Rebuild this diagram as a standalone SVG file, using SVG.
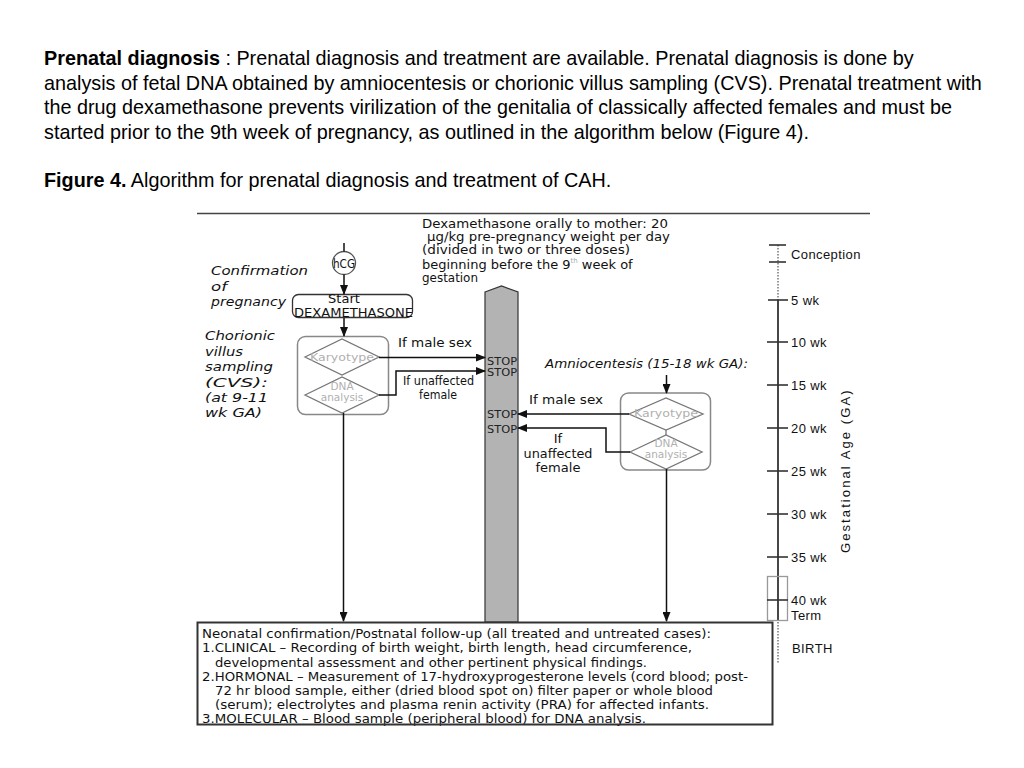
<svg xmlns="http://www.w3.org/2000/svg" width="1024" height="768" viewBox="0 0 1024 768">
<defs>
<marker id="ah" markerWidth="10" markerHeight="8" refX="9" refY="4" orient="auto" markerUnits="userSpaceOnUse"><path d="M0,0 L10,4 L0,8 Z" fill="#111"/></marker>
<style>
.p{font-family:"Liberation Sans",Arial,sans-serif;font-size:19.8px;fill:#000}
.b{font-weight:bold}
.d{font-family:"DejaVu Sans",Verdana,sans-serif;font-size:13px;fill:#111}
.bt{font-family:"DejaVu Sans",Verdana,sans-serif;font-size:12.5px;fill:#111}
.it{font-family:"DejaVu Sans",Verdana,sans-serif;font-style:italic;font-size:13px;fill:#111}
.g{font-family:"DejaVu Sans",Verdana,sans-serif;font-size:10.5px;fill:#b0b0b0}
.stop{font-family:"DejaVu Sans",Verdana,sans-serif;font-size:11px;fill:#222}
.tl{font-family:"Liberation Sans",Arial,sans-serif;font-size:13px;fill:#111;letter-spacing:0.4px}
.ln{stroke:#111;stroke-width:1.5;fill:none}
.gbox{stroke:#888;stroke-width:1.5;fill:#fff}
.dia{stroke:#777;stroke-width:1.3;fill:#fff}
</style>
</defs>
<rect width="1024" height="768" fill="#fff"/>

<g id="intro">
<text class="p" x="44" y="65"><tspan class="b">Prenatal diagnosis</tspan> : Prenatal diagnosis and treatment are available. Prenatal diagnosis is done by</text>
<text class="p" x="44" y="90">analysis of fetal DNA obtained by amniocentesis or chorionic villus sampling (CVS). Prenatal treatment with</text>
<text class="p" x="44" y="114">the drug dexamethasone prevents virilization of the genitalia of classically affected females and must be</text>
<text class="p" x="44" y="139">started prior to the 9th week of pregnancy, as outlined in the algorithm below (Figure 4).</text>
<text class="p" x="44" y="187"><tspan class="b">Figure 4.</tspan> Algorithm for prenatal diagnosis and treatment of CAH.</text>
</g>

<line x1="197" y1="213.5" x2="870" y2="213.5" stroke="#444" stroke-width="1.5"/>

<g id="dexa-note">
<text class="d" x="422" y="228" textLength="246" lengthAdjust="spacingAndGlyphs">Dexamethasone orally to mother: 20</text>
<text class="d" x="427" y="241" textLength="243" lengthAdjust="spacingAndGlyphs">µg/kg pre-pregnancy weight per day</text>
<text class="d" x="422" y="254" textLength="208" lengthAdjust="spacingAndGlyphs">(divided in two or three doses)</text>
<text class="d" x="422" y="268.5">beginning before the 9<tspan font-size="7" fill="#aaa" dy="-6">th</tspan><tspan dy="6"> week of</tspan></text>
<text class="d" x="422" y="282" textLength="56" lengthAdjust="spacingAndGlyphs">gestation</text>
</g>

<g id="left-labels">
<text class="it" x="211" y="275" textLength="97" lengthAdjust="spacingAndGlyphs">Confirmation</text>
<text class="it" x="211" y="290.5" textLength="16" lengthAdjust="spacingAndGlyphs">of</text>
<text class="it" x="211" y="306" textLength="75" lengthAdjust="spacingAndGlyphs">pregnancy</text>
<text class="it" x="205" y="340" textLength="70" lengthAdjust="spacingAndGlyphs">Chorionic</text>
<text class="it" x="205" y="355.5" textLength="38" lengthAdjust="spacingAndGlyphs">villus</text>
<text class="it" x="205" y="371" textLength="68" lengthAdjust="spacingAndGlyphs">sampling</text>
<text class="it" x="205" y="386.5" textLength="63" lengthAdjust="spacingAndGlyphs">(CVS):</text>
<text class="it" x="205" y="401.5" textLength="63" lengthAdjust="spacingAndGlyphs">(at 9-11</text>
<text class="it" x="205" y="416.5" textLength="57" lengthAdjust="spacingAndGlyphs">wk GA)</text>
</g>

<g id="stop-bar">
<path d="M485,292 L501.5,286 L518,292 L518,622 L485,622 Z" fill="#b3b3b3" stroke="#333" stroke-width="1.2"/>
<text class="stop" x="487" y="364.5" textLength="30" lengthAdjust="spacingAndGlyphs">STOP</text>
<text class="stop" x="487" y="376" textLength="30" lengthAdjust="spacingAndGlyphs">STOP</text>
<text class="stop" x="487" y="418" textLength="30" lengthAdjust="spacingAndGlyphs">STOP</text>
<text class="stop" x="487" y="432.5" textLength="30" lengthAdjust="spacingAndGlyphs">STOP</text>
</g>

<g id="hcg">
<circle cx="344" cy="263" r="11.5" fill="#fff" stroke="#555" stroke-width="1.3"/>
<text class="d" x="333" y="268" font-size="12" textLength="22" lengthAdjust="spacingAndGlyphs">hCG</text>
</g>

<g id="start-dexa">
<rect x="292.5" y="294.5" width="120" height="23" rx="6" fill="#fff" stroke="#333" stroke-width="1.3"/>
<text class="d" x="344" y="302.5" font-size="12" text-anchor="middle">Start</text>
<text class="d" x="294" y="316.5" textLength="119" lengthAdjust="spacingAndGlyphs">DEXAMETHASONE</text>
</g>

<g id="cvs">
<rect x="297.5" y="336.5" width="91" height="78" rx="8" class="gbox"/>
<polygon class="dia" points="305,357 342,339 379,357 342,375"/>
<text class="g" x="342" y="360.5" text-anchor="middle" textLength="64" lengthAdjust="spacingAndGlyphs">Karyotype</text>
<polygon class="dia" points="305,395 342,377 379,395 342,413"/>
<text class="g" x="342" y="390" text-anchor="middle">DNA</text>
<text class="g" x="342" y="401" text-anchor="middle">analysis</text>
</g>

<g id="amnio">
<text class="it" x="545" y="368" textLength="203" lengthAdjust="spacingAndGlyphs">Amniocentesis (15-18 wk GA):</text>
<rect x="620.5" y="393" width="90" height="77" rx="8" class="gbox"/>
<polygon class="dia" points="629,414 666,398 703,414 666,430"/>
<text class="g" x="666" y="417" text-anchor="middle" textLength="64" lengthAdjust="spacingAndGlyphs">Karyotype</text>
<line x1="666" y1="430" x2="666" y2="435" stroke="#777" stroke-width="1.3"/>
<polygon class="dia" points="630,452 666,435 702,452 666,469"/>
<text class="g" x="666" y="447" text-anchor="middle">DNA</text>
<text class="g" x="666" y="458" text-anchor="middle">analysis</text>
</g>

<g id="connectors">
<line class="ln" x1="344" y1="243" x2="344" y2="251.5" stroke="#555"/>
<line class="ln" x1="344" y1="274.5" x2="344" y2="294" marker-end="url(#ah)"/>
<line class="ln" x1="344" y1="318" x2="344" y2="336" marker-end="url(#ah)"/>
<line class="ln" x1="379" y1="357.5" x2="485" y2="357.5" marker-end="url(#ah)"/>
<polyline class="ln" points="379,395 396,395 396,371 485,371" marker-end="url(#ah)"/>
<line class="ln" x1="343.5" y1="413" x2="343.5" y2="621" marker-end="url(#ah)"/>
<line class="ln" x1="666.5" y1="375" x2="666.5" y2="393" marker-end="url(#ah)"/>
<line class="ln" x1="629" y1="414" x2="518" y2="414" marker-end="url(#ah)"/>
<polyline class="ln" points="630,452 606,452 606,428 518,428" marker-end="url(#ah)"/>
<line class="ln" x1="666.5" y1="469" x2="666.5" y2="621" marker-end="url(#ah)"/>
<text class="d" x="398" y="347" font-size="13.5" textLength="74" lengthAdjust="spacingAndGlyphs">If male sex</text>
<text class="d" x="403" y="385" font-size="11.5" textLength="71" lengthAdjust="spacingAndGlyphs">If unaffected</text>
<text class="d" x="438" y="398.5" font-size="11.5" text-anchor="middle" textLength="38" lengthAdjust="spacingAndGlyphs">female</text>
<text class="d" x="529" y="404" font-size="13.5" textLength="74" lengthAdjust="spacingAndGlyphs">If male sex</text>
<text class="d" x="558" y="443" font-size="13.5" text-anchor="middle">If</text>
<text class="d" x="558" y="458" font-size="13.5" text-anchor="middle" textLength="69" lengthAdjust="spacingAndGlyphs">unaffected</text>
<text class="d" x="558" y="472" font-size="13.5" text-anchor="middle" textLength="45" lengthAdjust="spacingAndGlyphs">female</text>
</g>

<g id="timeline">
<line x1="778" y1="245" x2="778" y2="300" stroke="#777" stroke-width="1.5" stroke-dasharray="1.5,1.5"/>
<line x1="778" y1="300" x2="778" y2="620" stroke="#333" stroke-width="1.8"/>
<line x1="778" y1="622" x2="778" y2="663" stroke="#777" stroke-width="1.5" stroke-dasharray="1.5,1.5"/>
<rect x="767.5" y="576.5" width="20" height="44" fill="none" stroke="#999" stroke-width="1.3"/>
<g stroke="#333" stroke-width="1.6">
<line x1="769" y1="245" x2="786" y2="245"/>
<line x1="769" y1="262" x2="786" y2="262"/>
<line x1="768" y1="300" x2="788" y2="300"/>
<line x1="767" y1="342" x2="788" y2="342"/>
<line x1="767" y1="385" x2="788" y2="385"/>
<line x1="767" y1="428" x2="788" y2="428"/>
<line x1="767" y1="471" x2="788" y2="471"/>
<line x1="767" y1="514" x2="788" y2="514"/>
<line x1="767" y1="557" x2="788" y2="557"/>
<line x1="767" y1="600" x2="788" y2="600"/>
</g>
<text class="tl" x="791" y="259">Conception</text>
<text class="tl" x="791" y="305">5 wk</text>
<text class="tl" x="791" y="347">10 wk</text>
<text class="tl" x="791" y="390">15 wk</text>
<text class="tl" x="791" y="433">20 wk</text>
<text class="tl" x="791" y="476">25 wk</text>
<text class="tl" x="791" y="519">30 wk</text>
<text class="tl" x="791" y="562">35 wk</text>
<text class="tl" x="791" y="605">40 wk</text>
<text class="tl" x="791" y="620">Term</text>
<text class="tl" x="792" y="653" font-size="10.5" letter-spacing="0.5">BIRTH</text>
<text class="tl" transform="translate(850,553) rotate(-90)" font-size="15" textLength="163" lengthAdjust="spacing">Gestational Age (GA)</text>
</g>

<g id="followup">
<rect x="197.5" y="622.5" width="575" height="102" fill="#fff"/>
<text class="bt" x="202" y="638" textLength="509" lengthAdjust="spacingAndGlyphs">Neonatal confirmation/Postnatal follow-up (all treated and untreated cases):</text>
<text class="bt" x="202" y="652" textLength="490" lengthAdjust="spacingAndGlyphs">1.CLINICAL – Recording of birth weight, birth length, head circumference,</text>
<text class="bt" x="215" y="666.5" textLength="432" lengthAdjust="spacingAndGlyphs">developmental assessment and other pertinent physical findings.</text>
<text class="bt" x="202" y="681" textLength="546" lengthAdjust="spacingAndGlyphs">2.HORMONAL – Measurement of 17-hydroxyprogesterone levels (cord blood; post-</text>
<text class="bt" x="215" y="695" textLength="498" lengthAdjust="spacingAndGlyphs">72 hr blood sample, either (dried blood spot on) filter paper or whole blood</text>
<text class="bt" x="215" y="709" textLength="494" lengthAdjust="spacingAndGlyphs">(serum); electrolytes and plasma renin activity (PRA) for affected infants.</text>
<text class="bt" x="202" y="723" textLength="444" lengthAdjust="spacingAndGlyphs">3.MOLECULAR – Blood sample (peripheral blood) for DNA analysis.</text>
<rect x="197.5" y="622.5" width="575" height="102" fill="none" stroke="#333" stroke-width="2"/>
</g>
</svg>
